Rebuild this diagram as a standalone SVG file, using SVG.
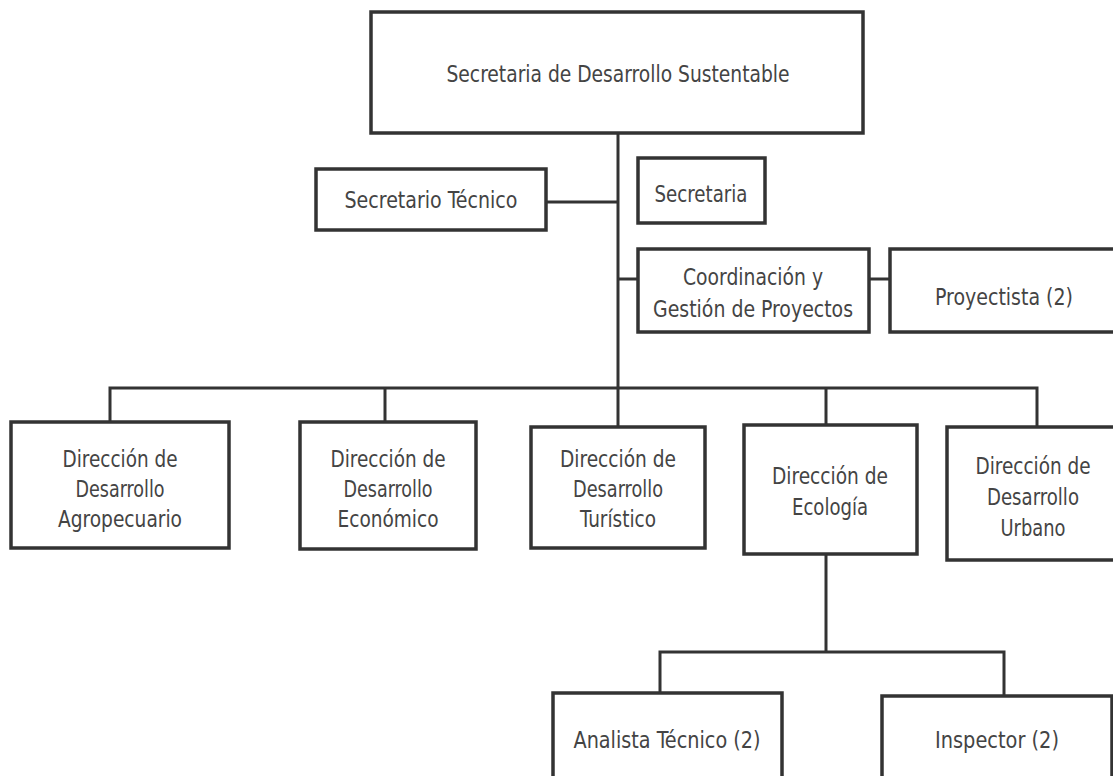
<svg xmlns="http://www.w3.org/2000/svg" width="1113" height="776" viewBox="0 0 1113 776">
<style>
.box{fill:#fff;stroke:#333;stroke-width:3.5}
.ln{fill:none;stroke:#333;stroke-width:3}
text{font-family:"DejaVu Sans Condensed","DejaVu Sans",sans-serif;font-stretch:condensed;font-size:23px;fill:#444;text-anchor:middle}
</style>
<rect width="1113" height="776" fill="#fff"/>
<g id="connectors">
<path class="ln" d="M618 133V388"/>
<path class="ln" d="M546 202H618"/>
<path class="ln" d="M618 279H638"/>
<path class="ln" d="M869 279H890"/>
<path class="ln" d="M110 422V388H1037V427"/>
<path class="ln" d="M385 388V422"/>
<path class="ln" d="M618 388V427"/>
<path class="ln" d="M826 388V425"/>
<path class="ln" d="M826 554V652"/>
<path class="ln" d="M660 693V652H1004V696"/>
</g>
<g id="n-secretaria-ds"><rect class="box" x="371" y="12" width="492" height="121"/><text x="618" y="82" textLength="343" lengthAdjust="spacingAndGlyphs">Secretaria de Desarrollo Sustentable</text></g>
<g id="n-sec-tecnico"><rect class="box" x="316" y="169" width="230" height="61"/><text x="431" y="208" textLength="173" lengthAdjust="spacingAndGlyphs">Secretario Técnico</text></g>
<g id="n-secretaria"><rect class="box" x="638" y="158" width="127" height="65"/><text x="701" y="202" textLength="93" lengthAdjust="spacingAndGlyphs">Secretaria</text></g>
<g id="n-coordinacion"><rect class="box" x="638" y="249" width="231" height="83"/><text x="753" y="285" textLength="140" lengthAdjust="spacingAndGlyphs">Coordinación y</text><text x="753" y="317" textLength="200" lengthAdjust="spacingAndGlyphs">Gestión de Proyectos</text></g>
<g id="n-proyectista"><rect class="box" x="890" y="249" width="228" height="83"/><text x="1004" y="305" textLength="138" lengthAdjust="spacingAndGlyphs">Proyectista (2)</text></g>
<g id="n-agro"><rect class="box" x="11" y="422" width="218" height="126"/><text x="120" y="467" textLength="115" lengthAdjust="spacingAndGlyphs">Dirección de</text><text x="120" y="497" textLength="89" lengthAdjust="spacingAndGlyphs">Desarrollo</text><text x="120" y="527" textLength="124" lengthAdjust="spacingAndGlyphs">Agropecuario</text></g>
<g id="n-eco"><rect class="box" x="300" y="422" width="176" height="127"/><text x="388" y="467" textLength="115" lengthAdjust="spacingAndGlyphs">Dirección de</text><text x="388" y="497" textLength="89" lengthAdjust="spacingAndGlyphs">Desarrollo</text><text x="388" y="527" textLength="101" lengthAdjust="spacingAndGlyphs">Económico</text></g>
<g id="n-tur"><rect class="box" x="531" y="427" width="174" height="121"/><text x="618" y="467" textLength="116" lengthAdjust="spacingAndGlyphs">Dirección de</text><text x="618" y="497" textLength="90" lengthAdjust="spacingAndGlyphs">Desarrollo</text><text x="618" y="527" textLength="76" lengthAdjust="spacingAndGlyphs">Turístico</text></g>
<g id="n-ecologia"><rect class="box" x="744" y="425" width="173" height="129"/><text x="830" y="484" textLength="116" lengthAdjust="spacingAndGlyphs">Dirección de</text><text x="830" y="515" textLength="76" lengthAdjust="spacingAndGlyphs">Ecología</text></g>
<g id="n-urbano"><rect class="box" x="947" y="427" width="170" height="133"/><text x="1033" y="474" textLength="115" lengthAdjust="spacingAndGlyphs">Dirección de</text><text x="1033" y="505" textLength="92" lengthAdjust="spacingAndGlyphs">Desarrollo</text><text x="1033" y="536" textLength="65" lengthAdjust="spacingAndGlyphs">Urbano</text></g>
<g id="n-analista"><rect class="box" x="553" y="693" width="229" height="87"/><text x="667" y="748" textLength="187" lengthAdjust="spacingAndGlyphs">Analista Técnico (2)</text></g>
<g id="n-inspector"><rect class="box" x="882" y="696" width="230" height="84"/><text x="997" y="748" textLength="124" lengthAdjust="spacingAndGlyphs">Inspector (2)</text></g>
</svg>
